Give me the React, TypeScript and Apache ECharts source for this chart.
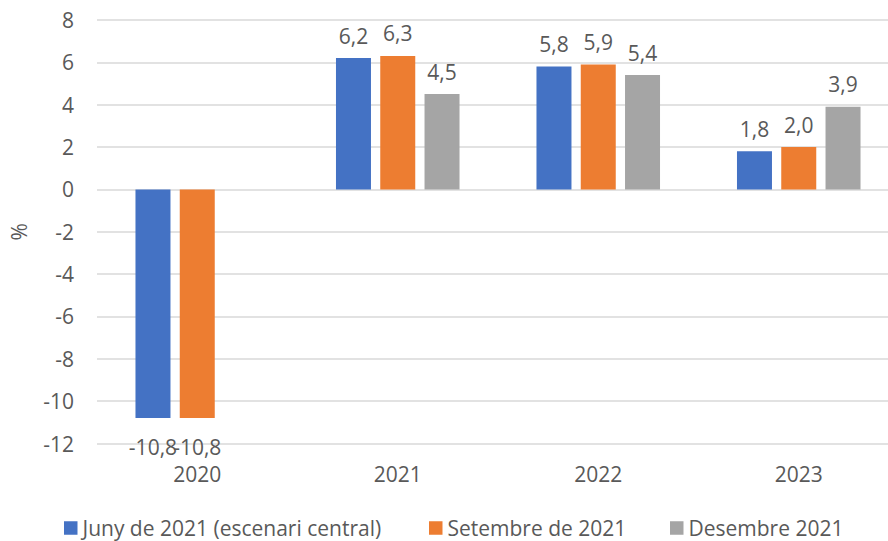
import React, { useEffect, useRef } from "react";
import * as echarts from "echarts";

const categories = ["2020", "2021", "2022", "2023"];
const seriesNames = ["Juny de 2021 (escenari central)", "Setembre de 2021", "Desembre 2021"];
const juny = [-10.8, 6.2, 5.8, 1.8];
const setembre = [-10.8, 6.3, 5.9, 2.0];
const desembre: (number | null)[] = [null, 4.5, 5.4, 3.9];
const yTicks = { min: -12, max: 8, interval: 2 };

const colors = ["#4472C4", "#ED7D31", "#A5A5A5"];
const textColor = "#595959";
const font = "'Open Sans', 'Noto Sans', sans-serif";
const fs = 21;

function fmt(v: number) {
  return v.toFixed(1).replace(".", ",");
}

function buildData(arr: (number | null)[]) {
  return arr.map((v) => {
    if (v === null) return "-";
    if (v < 0) return { value: v, label: { position: "bottom", distance: 18 } };
    return { value: v };
  });
}

export default function App() {
  const ref = useRef<HTMLDivElement>(null);
  useEffect(() => {
    if (!ref.current) return;
    const chart = echarts.init(ref.current, null, { renderer: "svg" });
    const all = [juny, setembre, desembre];
    const legendLefts = [64, 429, 670];
    chart.setOption({
      animation: false,
      textStyle: { fontFamily: font, color: textColor },
      grid: {
        left: 97,
        top: 20,
        width: 802,
        height: 423.5,
        containLabel: false,
        outerBoundsMode: "none",
      },
      legend: seriesNames.map((n, i) => ({
        data: [n],
        left: legendLefts[i],
        top: 516,
        padding: 0,
        icon: "rect",
        itemWidth: 13.5,
        itemHeight: 13.5,
        itemGap: 0,
        textStyle: { fontFamily: font, fontSize: fs, color: textColor, lineHeight: 24 },
        selectedMode: false,
      })),
      xAxis: {
        type: "category",
        data: categories,
        axisLine: { show: false, onZero: false },
        axisTick: { show: false },
        axisLabel: { fontFamily: font, fontSize: fs, color: textColor, margin: 20 },
      },
      yAxis: {
        type: "value",
        min: yTicks.min,
        max: yTicks.max,
        interval: yTicks.interval,
        name: "%",
        nameLocation: "middle",
        nameGap: 68,
        nameTextStyle: { fontFamily: font, fontSize: fs, color: textColor },
        axisLine: { show: false },
        axisTick: { show: false },
        axisLabel: { fontFamily: font, fontSize: fs, color: textColor, margin: 23 },
        splitLine: { lineStyle: { color: "#D9D9D9", width: 1.5 } },
      },
      series: all.map((arr, i) => ({
        type: "bar",
        name: seriesNames[i],
        data: buildData(arr),
        barWidth: 35,
        barGap: "26.5%",
        itemStyle: { color: colors[i] },
        label: {
          show: true,
          position: "top",
          distance: 12,
          fontFamily: font,
          fontSize: fs,
          color: textColor,
          formatter: (p: any) => fmt(p.value as number),
        },
      })),
    });
    return () => chart.dispose();
  }, []);
  return (
    <div
      ref={ref}
      style={{ position: "fixed", left: 0, top: 0, width: 888, height: 541, background: "#fff" }}
    />
  );
}
